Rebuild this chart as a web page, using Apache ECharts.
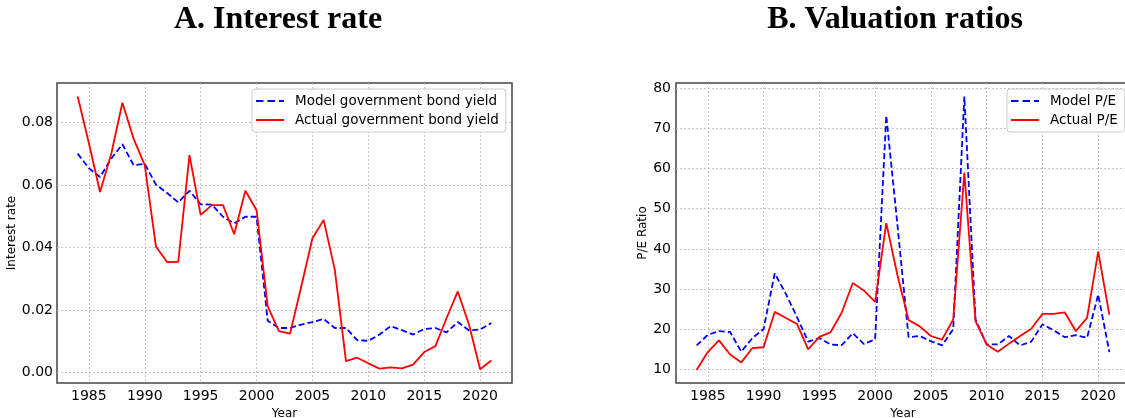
<!DOCTYPE html>
<html>
<head>
<meta charset="utf-8">
<script src="https://cdn.jsdelivr.net/npm/echarts@6/dist/echarts.min.js"></script>
<style>
html,body{margin:0;padding:0;background:#fff;}
#chart{width:1125px;height:418px;}
</style>
</head>
<body>
<div id="chart"></div>
<script>
const years = [1984,1985,1986,1987,1988,1989,1990,1991,1992,1993,1994,1995,1996,1997,1998,1999,2000,2001,2002,2003,2004,2005,2006,2007,2008,2009,2010,2011,2012,2013,2014,2015,2016,2017,2018,2019,2020,2021];

const modelYield = [0.0701,0.0654,0.0626,0.0685,0.0731,0.0664,0.0668,0.0602,0.0575,0.0545,0.0582,0.0539,0.0538,0.0499,0.0478,0.0499,0.0499,0.0166,0.0143,0.0143,0.0154,0.0162,0.0172,0.0143,0.0143,0.0104,0.0102,0.0122,0.0149,0.0136,0.0122,0.0140,0.0143,0.0129,0.0162,0.0135,0.0138,0.0159];
const actualYield = [0.0884,0.0735,0.0578,0.0700,0.0864,0.0749,0.0664,0.0404,0.0354,0.0355,0.0696,0.0505,0.0536,0.0536,0.0443,0.0582,0.0520,0.0212,0.0133,0.0125,0.0276,0.0430,0.0489,0.0329,0.0037,0.0048,0.0030,0.0013,0.0017,0.0014,0.0026,0.0066,0.0085,0.0175,0.0260,0.0154,0.0011,0.0039];

const modelPE = [15.95,18.6,19.5,19.3,14.4,17.8,20.0,33.9,28.8,23.0,16.9,17.8,16.2,16.0,19.0,16.3,17.5,73.2,46.0,18.0,18.3,17.0,15.95,20.0,77.9,22.4,16.2,16.2,18.3,15.95,16.9,21.2,19.75,18.0,18.5,17.85,28.6,14.3];
const actualPE = [9.85,14.3,17.2,13.7,11.7,15.3,15.5,24.3,22.8,21.3,15.0,18.1,19.2,24.1,31.5,29.6,26.8,46.4,33.5,22.3,20.7,18.3,17.4,22.4,59.0,22.0,16.2,14.4,16.4,18.3,20.1,23.8,23.8,24.2,19.5,22.8,39.3,23.6];

const xTicks = [1985,1990,1995,2000,2005,2010,2015,2020];
const yTicksRate = [0,0.02,0.04,0.06,0.08];
const yTicksPE = [10,20,30,40,50,60,70,80];

const titles = ['A. Interest rate','B. Valuation ratios'];
const yNames = ['Interest rate','P/E Ratio'];
const xName = 'Year';
const legendRate = ['Model government bond yield','Actual government bond yield'];
const legendPE = ['Model P/E','Actual P/E'];

function pairs(xs, ys){ return xs.map((x,i)=>[x, ys[i]]); }

const FONT = 'DejaVu Sans';
const gridLine = {show:true, lineStyle:{color:'#b8b8b8', width:0.8, type:[2,2]}};
const DASH_ICON = 'path://M0,0h7.5v2h-7.5z M11.5,0h7.5v2h-7.5z M23,0h5v2h-5z';
const SOLID_ICON = 'path://M0,0h28v2h-28z';

function xAxisCfg(gi){
  return {
    type:'value', gridIndex:gi, min:1982.15, max:2022.85,
    name:xName, nameLocation:'middle', nameGap:19,
    nameTextStyle:{fontFamily:FONT, fontSize:12, color:'#000'},
    axisLine:{show:false}, axisTick:{show:false, customValues:xTicks},
    axisLabel:{customValues:xTicks, fontFamily:FONT, fontSize:14, color:'#000', margin:6, formatter:v=>String(v)},
    splitLine:gridLine
  };
}

function legendCfg(names, left){
  return {
    data:[{name:names[0], icon:DASH_ICON},{name:names[1], icon:SOLID_ICON}],
    orient:'vertical', left:left, top:89, itemWidth:28, itemHeight:14, itemGap:5,
    padding:[5,7,5,4], borderColor:'#cccccc', borderWidth:1, borderRadius:3, backgroundColor:'rgba(255,255,255,0.85)',
    textStyle:{fontFamily:FONT, fontSize:13.5, color:'#000', padding:[0,0,0,6]}
  };
}

const chart = echarts.init(document.getElementById('chart'), null, {renderer:'canvas'});
chart.setOption({
  animation:false,
  backgroundColor:'#fff',
  graphic:[
    {type:'text', x:278, y:4, style:{text:titles[0], font:'bold 32px "Liberation Serif"', fill:'#000', textAlign:'center', textVerticalAlign:'top'}},
    {type:'text', x:895, y:4, style:{text:titles[1], font:'bold 32px "Liberation Serif"', fill:'#000', textAlign:'center', textVerticalAlign:'top'}}
  ],
  grid:[
    {left:57, top:83, width:455, height:300, show:true, borderColor:'#444', borderWidth:1.5, backgroundColor:'transparent', containLabel:false, outerBoundsMode:'none'},
    {left:676, top:83, width:454, height:300, show:true, borderColor:'#444', borderWidth:1.5, backgroundColor:'transparent', containLabel:false, outerBoundsMode:'none'}
  ],
  xAxis:[xAxisCfg(0), xAxisCfg(1)],
  yAxis:[
    {type:'value', gridIndex:0, min:-0.0033, max:0.0927,
     name:yNames[0], nameLocation:'middle', nameGap:37,
     nameTextStyle:{fontFamily:FONT, fontSize:12, color:'#000'},
     axisLine:{show:false}, axisTick:{show:false, customValues:yTicksRate},
     axisLabel:{customValues:yTicksRate, fontFamily:FONT, fontSize:14, color:'#000', margin:4, formatter:v=>v.toFixed(2)},
     splitLine:gridLine},
    {type:'value', gridIndex:1, min:6.6, max:81.3,
     name:yNames[1], nameLocation:'middle', nameGap:26,
     nameTextStyle:{fontFamily:FONT, fontSize:12, color:'#000'},
     axisLine:{show:false}, axisTick:{show:false, customValues:yTicksPE},
     axisLabel:{customValues:yTicksPE, fontFamily:FONT, fontSize:14, color:'#000', margin:5, formatter:v=>String(v)},
     splitLine:gridLine}
  ],
  legend:[legendCfg(legendRate, 252), legendCfg(legendPE, 1007)],
  series:[
    {name:legendRate[0], type:'line', xAxisIndex:0, yAxisIndex:0, data:pairs(years, modelYield), symbol:'none',
     lineStyle:{color:'#0000ff', width:1.8, type:[6,3]}, itemStyle:{color:'#0000ff'}},
    {name:legendRate[1], type:'line', xAxisIndex:0, yAxisIndex:0, data:pairs(years, actualYield), symbol:'none',
     lineStyle:{color:'#ff0000', width:1.8}, itemStyle:{color:'#ff0000'}},
    {name:legendPE[0], type:'line', xAxisIndex:1, yAxisIndex:1, data:pairs(years, modelPE), symbol:'none',
     lineStyle:{color:'#0000ff', width:1.8, type:[6,3]}, itemStyle:{color:'#0000ff'}},
    {name:legendPE[1], type:'line', xAxisIndex:1, yAxisIndex:1, data:pairs(years, actualPE), symbol:'none',
     lineStyle:{color:'#ff0000', width:1.8}, itemStyle:{color:'#ff0000'}}
  ]
});
</script>
</body>
</html>
